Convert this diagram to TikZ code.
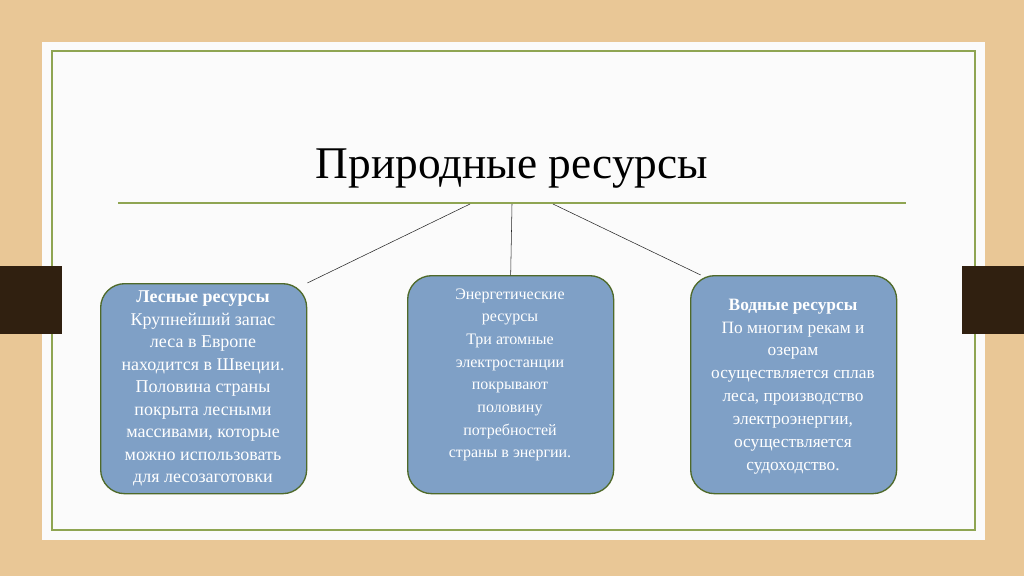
\documentclass[tikz,border=0pt]{standalone}
\usepackage{fontspec}
\setmainfont{Liberation Serif}
\begin{document}
\begin{tikzpicture}[x=0.75pt,y=-0.75pt]
\definecolor{wood}{HTML}{E9C796}
\definecolor{frame}{HTML}{8FA552}
\definecolor{boxfill}{HTML}{7FA0C6}
\definecolor{boxedge}{HTML}{4F6A2A}
\tikzstyle{resbox} = [rectangle, rounded corners=18pt, draw=boxedge, line width=1pt, fill=boxfill, anchor=north west, inner sep=0pt]
\tikzstyle{restext} = [text=white, align=center, anchor=north]
\fill[wood] (0,0) rectangle (1024,576);
\fill[white!97!gray] (42,42) rectangle (985,540);
\draw[frame, line width=1.2pt] (52,51) rectangle (975,530);
\fill[black!75!brown] (0,266) rectangle (62,334);
\fill[black!75!brown] (962,266) rectangle (1024,334);
\node (title) at (512,169) {\fontsize{34}{38}\selectfont Природные ресурсы};
\draw[frame, line width=1pt] (118,203) -- (906,203);
\node (forest)[resbox, minimum width=206*0.75pt, minimum height=210*0.75pt] at (100,283) {};
\node (energy)[resbox, minimum width=206*0.75pt, minimum height=218*0.75pt] at (407,275) {};
\node (water)[resbox, minimum width=206*0.75pt, minimum height=218*0.75pt] at (690,275) {};
\node (forestText)[restext, font={\fontsize{13.5}{16.9}\selectfont}] at (203,286) {\textbf{Лесные ресурсы}\\Крупнейший запас\\леса в Европе\\находится в Швеции.\\Половина страны\\покрыта лесными\\массивами, которые\\можно использовать\\для лесозаготовки};
\node (energyText)[restext, font={\fontsize{12}{17}\selectfont}] at (510,284) {Энергетические\\ресурсы\\Три атомные\\электростанции\\покрывают\\половину\\потребностей\\страны в энергии.};
\node (waterText)[restext, font={\fontsize{13}{17.2}\selectfont}] at (793,294) {\textbf{Водные ресурсы}\\По многим рекам и\\озерам\\осуществляется сплав\\леса, производство\\электроэнергии,\\осуществляется\\судоходство.};
\coordinate (hubL) at (470,204);
\coordinate (hubM) at (512,204);
\coordinate (hubR) at (553,204);
\draw[black!85] (hubL) -- (forest.north east);
\draw[black!85] (hubM) -- (energy.north);
\draw[black!85] (hubR) -- ([xshift=8pt]water.north west);
\end{tikzpicture}
\end{document}
